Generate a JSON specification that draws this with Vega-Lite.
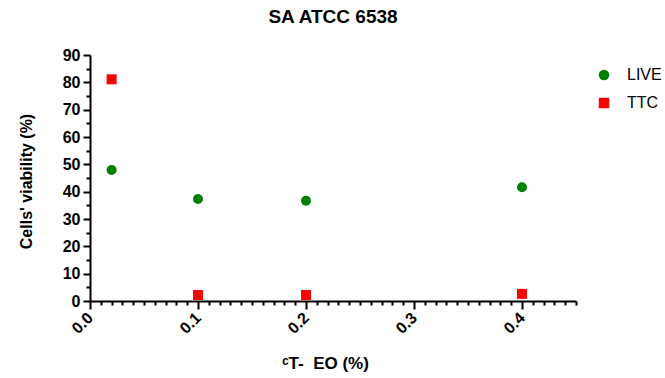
{
  "$schema": "https://vega.github.io/schema/vega-lite/v6.json",
  "width": 486,
  "height": 246,
  "autosize": "none",
  "padding": {"left": 90, "top": 55, "right": 89, "bottom": 77},
  "background": "white",
  "config": {
    "view": {"stroke": null},
    "font": "Liberation Sans",
    "axis": {"grid": false, "domainColor": "black", "tickColor": "black", "domainWidth": 2, "tickWidth": 2, "labelColor": "black", "titleColor": "black", "labelFont": "Liberation Sans", "titleFont": "Liberation Sans"}
  },
  "title": {"text": "SA ATCC 6538", "fontSize": 19, "font": "Liberation Sans", "fontWeight": "bold", "color": "black", "offset": 20, "anchor": "middle"},
  "data": {
    "values": [
      {"conc": 0.02, "viability": 47.9, "series": "LIVE"},
      {"conc": 0.1, "viability": 37.3, "series": "LIVE"},
      {"conc": 0.2, "viability": 36.7, "series": "LIVE"},
      {"conc": 0.4, "viability": 41.6, "series": "LIVE"},
      {"conc": 0.02, "viability": 81.1, "series": "TTC"},
      {"conc": 0.1, "viability": 2.2, "series": "TTC"},
      {"conc": 0.2, "viability": 2.2, "series": "TTC"},
      {"conc": 0.4, "viability": 2.6, "series": "TTC"}
    ]
  },
  "resolve": {"axis": {"x": "independent", "y": "independent"}},
  "layer": [
    {
      "mark": {"type": "point", "opacity": 0},
      "encoding": {
        "x": {"field": "conc", "type": "quantitative", "scale": {"domain": [0, 0.45], "nice": false, "zero": true},
          "axis": {"orient": "bottom", "values": [0.01,0.02,0.03,0.04,0.05,0.06,0.07,0.08,0.09,0.11,0.12,0.13,0.14,0.15,0.16,0.17,0.18,0.19,0.21,0.22,0.23,0.24,0.25,0.26,0.27,0.28,0.29,0.31,0.32,0.33,0.34,0.35,0.36,0.37,0.38,0.39,0.41,0.42,0.43,0.44,0.45], "labels": false, "domain": false, "tickSize": 4, "tickWidth": 2, "title": null}},
        "y": {"field": "viability", "type": "quantitative", "scale": {"domain": [0, 90], "nice": false},
          "axis": {"orient": "left", "values": [5,15,25,35,45,55,65,75,85], "labels": false, "domain": false, "tickSize": 4, "tickWidth": 2, "title": null}}
      }
    },
    {
      "mark": {"type": "point", "filled": true, "opacity": 1, "size": 100},
      "encoding": {
        "x": {"field": "conc", "type": "quantitative", "scale": {"domain": [0, 0.45], "nice": false, "zero": true},
          "axis": {"orient": "bottom", "values": [0, 0.1, 0.2, 0.3, 0.4], "format": ".1f", "labelAngle": -45, "labelAlign": "right", "labelBaseline": "middle", "labelFontSize": 16, "labelFontWeight": "bold", "labelPadding": 6, "tickSize": 8,
            "title": "ᶜT-\u00a0 EO (%)", "titleFontSize": 17, "titleFontWeight": "bold", "titleX": 235, "titleY": 62, "titleBaseline": "middle", "titleAlign": "center"}},
        "y": {"field": "viability", "type": "quantitative", "scale": {"domain": [0, 90], "nice": false},
          "axis": {"orient": "left", "values": [0,10,20,30,40,50,60,70,80,90], "labelFontSize": 16, "labelFontWeight": "bold", "labelPadding": 3, "tickSize": 7,
            "title": "Cells' viability (%)", "titleFontSize": 16, "titleFontWeight": "bold", "titleX": -64, "titleY": 126, "titleBaseline": "middle", "titleAlign": "center", "titleAngle": -90}},
        "color": {"field": "series", "type": "nominal", "scale": {"domain": ["LIVE", "TTC"], "range": ["#008000", "#ff0000"]},
          "legend": {"title": null, "orient": "none", "legendX": 506, "legendY": 12, "labelFontSize": 16, "labelFont": "Liberation Sans", "labelColor": "black", "labelOffset": 15, "rowPadding": 12, "symbolSize": 110, "symbolStrokeWidth": 0, "symbolOpacity": 1}},
        "shape": {"field": "series", "type": "nominal", "scale": {"domain": ["LIVE", "TTC"], "range": ["circle", "square"]}}
      }
    }
  ]
}
